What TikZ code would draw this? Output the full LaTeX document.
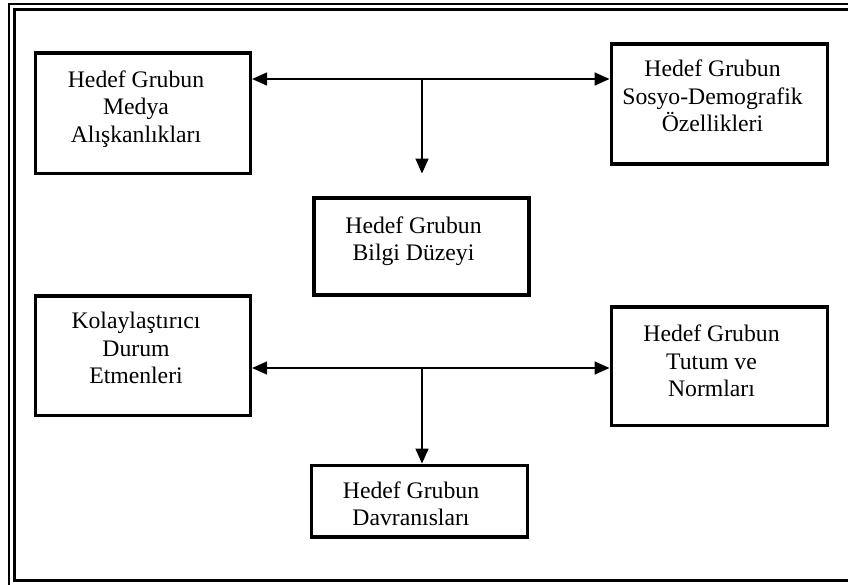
\documentclass[tikz,border=0pt]{standalone}
\usepackage{fontspec}
\setmainfont{Liberation Serif}
\usetikzlibrary{arrows.meta}

\tikzset{
  box/.style={draw=black, line width=3.6pt, rectangle, inner sep=0pt},
  lbl/.style={align=center, inner sep=0pt, font=\fontsize{23.7}{27.3}\selectfont},
  link/.style={draw=black, line width=1.7pt},
  tip/.style={-{Triangle[length=15pt,width=13pt]}},
  tips/.style={{Triangle[length=15pt,width=13pt]}-{Triangle[length=15pt,width=13pt]}}
}

\begin{document}
\begin{tikzpicture}[x=1pt, y=-1pt]
  \useasboundingbox (0,0) rectangle (848,584);
  \fill[white] (0,0) rectangle (848,584);

  % double frame, running past the right and bottom edges
  \begin{scope}
    \clip (0,0) rectangle (848,584);
    \draw[line width=2pt] (9,3.5) rectangle (880,600);
    \draw[line width=3pt] (14.7,9.5) rectangle (870,580);
  \end{scope}

  % boxes
  \node[box, minimum width=215pt, minimum height=120.7pt] (medya) at (142.8,113.3) {};
  \node[box, minimum width=216pt, minimum height=120pt]   (sosyo) at (719.3,103.7) {};
  \node[box, minimum width=215pt, minimum height=97pt]    (bilgi) at (421.2,246.2) {};
  \node[box, minimum width=215pt, minimum height=119.3pt] (kolay) at (142.8,355.7) {};
  \node[box, minimum width=216pt, minimum height=118.7pt] (tutum) at (719.3,366.3) {};
  \node[box, minimum width=216pt, minimum height=71.7pt]  (davr)  at (419.3,501.2) {};

  % labels
  \node[lbl] (tmedya) at (136,109)   {Hedef Grubun\\Medya\\Alışkanlıkları};
  \node[lbl] (tsosyo) at (712.5,96)  {Hedef Grubun\\Sosyo-Demografik\\Özellikleri};
  \node[lbl] (tbilgi) at (413.5,241) {Hedef Grubun\\Bilgi Düzeyi};
  \node[lbl] (tkolay) at (136,348)   {Kolaylaştırıcı\\Durum\\Etmenleri};
  \node[lbl] (ttutum) at (711.5,361) {Hedef Grubun\\Tutum ve\\Normları};
  \node[lbl] (tdavr)  at (411,504)   {Hedef Grubun\\Davranısları};

  % junction points
  \coordinate (j1) at (422,79);
  \coordinate (e1) at (422,173.5);
  \coordinate (j2) at (422,368);

  % connectors
  \draw[link, tips] (medya.east |- j1) -- (sosyo.west |- j1);
  \draw[link, tip] (j1) -- (e1);
  \draw[link, tips] (kolay.east |- j2) -- (tutum.west |- j2);
  \draw[link, tip] (j2) -- (j2 |- davr.north);
\end{tikzpicture}
\end{document}
